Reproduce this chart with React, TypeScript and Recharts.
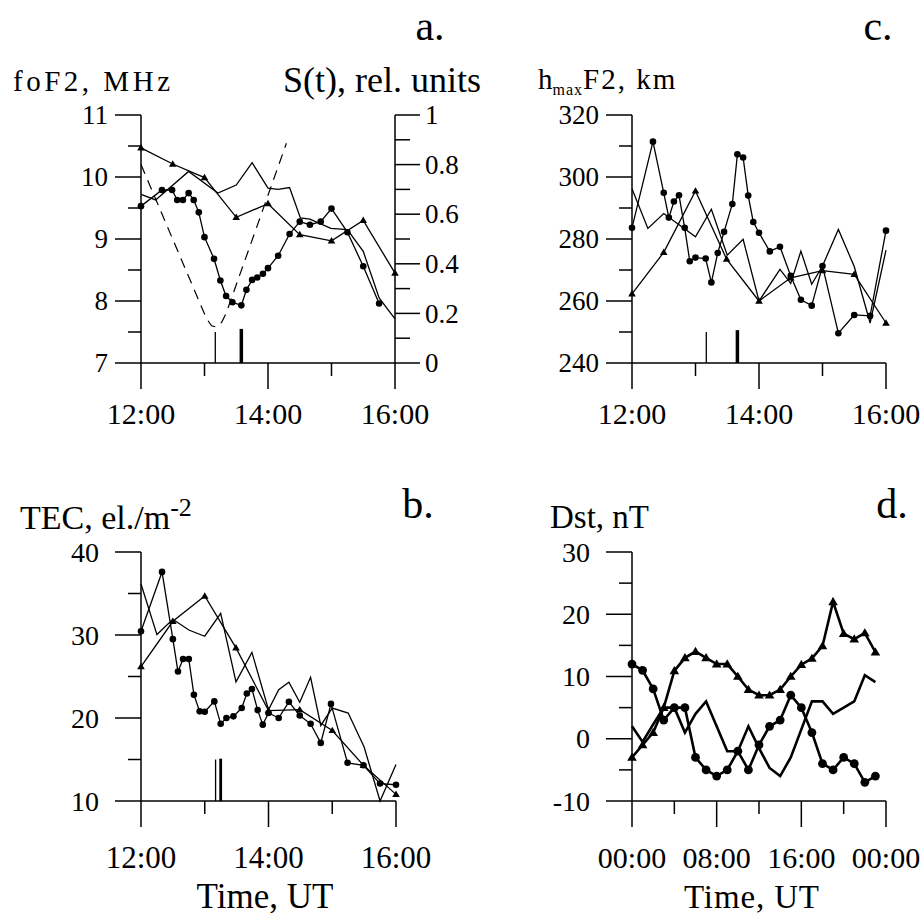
import React from 'react';
import { LineChart, Line, XAxis, YAxis } from 'recharts';

const SERIF = '"Liberation Serif", "Times New Roman", Times, serif';
const PAGE_W = 922;
const PAGE_H = 919;

// a. foF2, MHz  (circles: eclipse day, triangles + thin line: reference days), dashed: S(t)
const foF2EclT = [12.0, 12.33, 12.49, 12.57, 12.66, 12.75, 12.83, 12.91, 13.0, 13.15, 13.25, 13.34, 13.44, 13.58, 13.66, 13.75, 13.83, 13.92, 14.0, 14.16, 14.34, 14.5, 14.66, 14.83, 15.0, 15.25, 15.5, 15.75];
const foF2Ecl = [9.53, 9.79, 9.79, 9.63, 9.63, 9.74, 9.63, 9.43, 9.03, 8.68, 8.33, 8.08, 7.98, 7.93, 8.18, 8.34, 8.38, 8.44, 8.53, 8.73, 9.08, 9.28, 9.23, 9.28, 9.49, 9.11, 8.56, 7.96];
const foF2TriT = [12, 12.5, 13, 13.5, 14, 14.5, 15, 15.5, 16];
const foF2Tri = [10.47, 10.21, 9.99, 9.35, 9.57, 9.07, 8.97, 9.3, 8.45];
const foF2ThinT = [12.0, 12.23, 12.75, 13.21, 13.5, 13.75, 14.0, 14.16, 14.34, 14.51, 14.66, 14.99, 15.25, 15.5, 15.75, 16.0];
const foF2Thin = [9.72, 9.63, 10.09, 9.74, 9.87, 10.23, 9.82, 9.8, 9.83, 9.34, 9.32, 9.17, 9.15, 8.8, 8.05, 7.71];
const sunT = [12.0, 13.03, 13.11, 13.19, 13.27, 13.34, 14.29];
const sunS = [0.8, 0.18, 0.15, 0.145, 0.164, 0.2, 0.886];
const foF2Marks = [13.17, 13.58];

// c. hmaxF2, km
const hmEclT = [12.0, 12.33, 12.5, 12.58, 12.66, 12.74, 12.83, 12.91, 13.0, 13.16, 13.25, 13.35, 13.45, 13.58, 13.66, 13.75, 13.83, 13.91, 14.0, 14.17, 14.33, 14.5, 14.66, 14.83, 15.0, 15.25, 15.5, 15.75, 16.0];
const hmEcl = [283.6, 311.4, 294.9, 286.9, 292.1, 294.1, 283.6, 272.8, 274.0, 273.7, 266.0, 275.5, 282.3, 291.3, 307.3, 306.3, 294.0, 285.5, 282.0, 276.0, 277.5, 268.1, 260.4, 258.5, 271.3, 249.6, 255.5, 255.2, 282.7];
const hmTriT = [12, 12.5, 13, 13.49, 14, 14.5, 15, 15.5, 16];
const hmTri = [262.3, 275.7, 295.5, 273.5, 260.0, 267.5, 269.8, 268.6, 252.9];
const hmThinT = [12.0, 12.25, 12.5, 13.0, 13.25, 13.5, 13.75, 14.0, 14.33, 14.5, 14.66, 14.83, 15.0, 15.25, 15.5, 15.75, 16.0];
const hmThin = [296.2, 283.4, 288.2, 280.7, 289.6, 274.8, 279.9, 260.0, 270.2, 265.7, 276.1, 265.4, 271.3, 283.1, 271.1, 252.9, 276.4];
const hmMarks = [13.17, 13.66];

// b. TEC
const tecEclT = [12.0, 12.33, 12.5, 12.58, 12.66, 12.75, 12.83, 12.92, 13.0, 13.15, 13.25, 13.34, 13.45, 13.58, 13.66, 13.74, 13.83, 13.91, 14.0, 14.16, 14.32, 14.49, 14.66, 14.82, 14.98, 15.24, 15.49, 15.75, 16.0];
const tecEcl = [30.45, 37.6, 29.5, 25.6, 27.1, 27.1, 22.8, 20.8, 20.75, 22.0, 19.3, 20.0, 20.2, 21.2, 22.95, 23.5, 20.95, 19.2, 20.6, 20.0, 21.95, 20.3, 19.3, 17.0, 21.7, 14.6, 14.3, 12.1, 11.96];
const tecTriT = [12, 12.5, 13, 13.49, 14, 14.49, 15, 15.49, 16];
const tecTri = [26.2, 31.65, 34.7, 28.45, 20.9, 21.0, 18.5, 14.3, 10.8];
const tecThinT = [12.0, 12.25, 12.5, 12.75, 13.0, 13.25, 13.49, 13.74, 14.0, 14.16, 14.32, 14.49, 14.66, 14.82, 15.0, 15.25, 15.5, 15.75, 16.0];
const tecThin = [36.15, 30.05, 31.9, 30.6, 29.85, 32.6, 24.35, 27.9, 21.0, 23.4, 24.3, 21.9, 24.9, 19.1, 21.2, 20.6, 16.5, 10.0, 14.4];
const tecMarks = [13.17, 13.25];

// d. Dst, nT (hourly)
const dstHours = [0, 1, 2, 3, 4, 5, 6, 7, 8, 9, 10, 11, 12, 13, 14, 15, 16, 17, 18, 19, 20, 21, 22, 23];
const dstEcl = [12, 11, 8, 3, 5, 5, -3, -5, -6, -5, -2, -5, -1, 2, 3, 7, 5, 1, -4, -5, -3, -4, -7, -6];
const dstTri = [-3, -1, 1, 5, 10.9, 13, 14, 13, 12, 12, 10, 7.9, 7, 7, 7.9, 10, 11.9, 12.9, 14.9, 22, 16.9, 16, 17, 13.9];
const dstThin = [2, -0.5, 2.3, 5, 5, 1, 4, 6, 2, -2, -2, 2, -1.5, -4.7, -6, -3, 1.5, 6, 6, 4, 5, 6, 10.2, 9.1];

// ticks
const hourTicks = [12, 13, 14, 15, 16];
const hourMajor = [12, 14, 16];
const foF2Ticks = [7, 7.5, 8, 8.5, 9, 9.5, 10, 10.5, 11];
const foF2Major = [7, 8, 9, 10, 11];
const sTicks = [0, 0.1, 0.2, 0.3, 0.4, 0.5, 0.6, 0.7, 0.8, 0.9, 1];
const sMajor = [0, 0.2, 0.4, 0.6, 0.8, 1];
const hmTicks = [240, 250, 260, 270, 280, 290, 300, 310, 320];
const hmMajor = [240, 260, 280, 300, 320];
const tecTicks = [10, 15, 20, 25, 30, 35, 40];
const tecMajor = [10, 20, 30, 40];
const dstTicks = [-10, -5, 0, 5, 10, 15, 20, 25, 30];
const dstMajor = [-10, 0, 10, 20, 30];
const dayTicks = [0, 4, 8, 12, 16, 20, 24];
const dayMajor = [0, 8, 16, 24];
const dayLabels = ['00:00', '08:00', '16:00', '00:00'];

const pts = (t: number[], v: number[]) => t.map((x, i) => ({ t: x, v: v[i] }));
const mark = (t: number, y0: number, y1: number) => [{ t, v: y0 }, { t, v: y1 }];
const hit = (list: number[], v: number) => list.findIndex((m) => Math.abs(m - v) < 1e-6);
const num = (v: number) => String(Math.round(v * 10) / 10);
const clock = (v: number) => `${v}:00`;

type TickProps = {
  x?: number;
  y?: number;
  payload?: { value: number };
  majors: number[];
  len: [number, number];
  gap: number;
  size: number;
  fmt: (v: number, i: number) => string;
};

const labelStyle: React.CSSProperties = { fontFamily: SERIF };

function LeftTick({ x = 0, y = 0, payload, majors, len, gap, size, fmt }: TickProps) {
  const v = payload ? payload.value : 0;
  const i = hit(majors, v);
  const l = i >= 0 ? len[0] : len[1];
  return (
    <g>
      <line x1={x - l} y1={y} x2={x} y2={y} stroke="#000" strokeWidth={1.5} />
      {i >= 0 && (
        <text x={x - l - gap} y={y} dy="0.34em" textAnchor="end" style={labelStyle} fontSize={size} fill="#000">
          {fmt(v, i)}
        </text>
      )}
    </g>
  );
}

function RightTick({ x = 0, y = 0, payload, majors, len, gap, size, fmt }: TickProps) {
  const v = payload ? payload.value : 0;
  const i = hit(majors, v);
  const l = i >= 0 ? len[0] : len[1];
  return (
    <g>
      <line x1={x} y1={y} x2={x + l} y2={y} stroke="#000" strokeWidth={1.5} />
      {i >= 0 && (
        <text x={x + l + gap} y={y} dy="0.34em" textAnchor="start" style={labelStyle} fontSize={size} fill="#000">
          {fmt(v, i)}
        </text>
      )}
    </g>
  );
}

function BottomTick({ x = 0, y = 0, payload, majors, len, gap, size, fmt }: TickProps) {
  const v = payload ? payload.value : 0;
  const i = hit(majors, v);
  const l = i >= 0 ? len[0] : len[1];
  return (
    <g>
      <line x1={x} y1={y} x2={x} y2={y + l} stroke="#000" strokeWidth={1.5} />
      {i >= 0 && (
        <text x={x} y={y + gap} textAnchor="middle" style={labelStyle} fontSize={size} fill="#000">
          {fmt(v, i)}
        </text>
      )}
    </g>
  );
}

function Tri({ cx, cy, size = 3.6 }: any) {
  if (cx == null || cy == null) return null;
  const s = size;
  return <polygon points={`${cx},${cy - s} ${cx - s},${cy + s * 0.7} ${cx + s},${cy + s * 0.7}`} fill="#000" />;
}

const AXIS = { stroke: '#000', strokeWidth: 1.5 };
const abs: React.CSSProperties = { position: 'absolute', left: 0, top: 0 };

function dotStyle(r: number) {
  return { r, fill: '#000', stroke: '#000', strokeWidth: 0 };
}

export default function App() {
  const thin = 1.3;
  return (
    <div style={{ position: 'absolute', left: 0, top: 0, width: PAGE_W, height: PAGE_H, background: '#fff', fontFamily: SERIF }}>
      {/* a. */}
      <div style={abs}>
        <LineChart width={PAGE_W} height={PAGE_H} margin={{ top: 115, right: 526, bottom: 555, left: 140 }}>
          <XAxis type="number" dataKey="t" domain={[12, 16]} ticks={hourTicks} interval={0} height={1}
            tickSize={0} tickMargin={0} tickLine={false} axisLine={AXIS}
            tick={<BottomTick majors={hourMajor} len={[26, 13]} gap={61} size={30} fmt={clock} />} />
          <YAxis yAxisId="f" type="number" domain={[7, 11]} ticks={foF2Ticks} interval={0} width={1}
            tickSize={0} tickMargin={0} tickLine={false} axisLine={AXIS}
            tick={<LeftTick majors={foF2Major} len={[26, 13]} gap={7} size={27} fmt={num} />} />
          <YAxis yAxisId="s" orientation="right" type="number" domain={[0, 1]} ticks={sTicks} interval={0} width={1}
            tickSize={0} tickMargin={0} tickLine={false} axisLine={AXIS}
            tick={<RightTick majors={sMajor} len={[25, 15]} gap={5} size={27} fmt={num} />} />
          <Line yAxisId="s" data={pts(sunT, sunS)} dataKey="v" stroke="#000" strokeWidth={1.2} strokeDasharray="10 7"
            dot={false} activeDot={false} isAnimationActive={false} />
          <Line yAxisId="f" data={pts(foF2ThinT, foF2Thin)} dataKey="v" stroke="#000" strokeWidth={thin}
            dot={false} activeDot={false} isAnimationActive={false} />
          <Line yAxisId="f" data={pts(foF2TriT, foF2Tri)} dataKey="v" stroke="#000" strokeWidth={thin}
            dot={<Tri size={3.8} />} activeDot={false} isAnimationActive={false} />
          <Line yAxisId="f" data={pts(foF2EclT, foF2Ecl)} dataKey="v" stroke="#000" strokeWidth={thin}
            dot={dotStyle(3.3)} activeDot={false} isAnimationActive={false} />
          <Line yAxisId="f" data={mark(foF2Marks[0], 7, 7.5)} dataKey="v" stroke="#000" strokeWidth={1.3}
            dot={false} activeDot={false} isAnimationActive={false} />
          <Line yAxisId="f" data={mark(foF2Marks[1], 7, 7.55)} dataKey="v" stroke="#000" strokeWidth={3.5}
            dot={false} activeDot={false} isAnimationActive={false} />
        </LineChart>
      </div>

      {/* c. */}
      <div style={abs}>
        <LineChart width={PAGE_W} height={PAGE_H} margin={{ top: 115, right: 36, bottom: 555, left: 631 }}>
          <XAxis type="number" dataKey="t" domain={[12, 16]} ticks={hourTicks} interval={0} height={1}
            tickSize={0} tickMargin={0} tickLine={false} axisLine={AXIS}
            tick={<BottomTick majors={hourMajor} len={[26, 13]} gap={61} size={30} fmt={clock} />} />
          <YAxis yAxisId="h" type="number" domain={[240, 320]} ticks={hmTicks} interval={0} width={1}
            tickSize={0} tickMargin={0} tickLine={false} axisLine={AXIS}
            tick={<LeftTick majors={hmMajor} len={[26, 13]} gap={7} size={27} fmt={num} />} />
          <Line yAxisId="h" data={pts(hmThinT, hmThin)} dataKey="v" stroke="#000" strokeWidth={thin}
            dot={false} activeDot={false} isAnimationActive={false} />
          <Line yAxisId="h" data={pts(hmTriT, hmTri)} dataKey="v" stroke="#000" strokeWidth={thin}
            dot={<Tri size={3.8} />} activeDot={false} isAnimationActive={false} />
          <Line yAxisId="h" data={pts(hmEclT, hmEcl)} dataKey="v" stroke="#000" strokeWidth={thin}
            dot={dotStyle(3.3)} activeDot={false} isAnimationActive={false} />
          <Line yAxisId="h" data={mark(hmMarks[0], 240, 250)} dataKey="v" stroke="#000" strokeWidth={1.3}
            dot={false} activeDot={false} isAnimationActive={false} />
          <Line yAxisId="h" data={mark(hmMarks[1], 240, 250.6)} dataKey="v" stroke="#000" strokeWidth={3.5}
            dot={false} activeDot={false} isAnimationActive={false} />
        </LineChart>
      </div>

      {/* b. */}
      <div style={abs}>
        <LineChart width={PAGE_W} height={PAGE_H} margin={{ top: 552, right: 526, bottom: 117, left: 140 }}>
          <XAxis type="number" dataKey="t" domain={[12, 16]} ticks={hourTicks} interval={0} height={1}
            tickSize={0} tickMargin={0} tickLine={false} axisLine={AXIS}
            tick={<BottomTick majors={hourMajor} len={[26, 13]} gap={67} size={31} fmt={clock} />} />
          <YAxis yAxisId="e" type="number" domain={[10, 40]} ticks={tecTicks} interval={0} width={1}
            tickSize={0} tickMargin={0} tickLine={false} axisLine={AXIS}
            tick={<LeftTick majors={tecMajor} len={[26, 13]} gap={16} size={28} fmt={num} />} />
          <Line yAxisId="e" data={pts(tecThinT, tecThin)} dataKey="v" stroke="#000" strokeWidth={thin}
            dot={false} activeDot={false} isAnimationActive={false} />
          <Line yAxisId="e" data={pts(tecTriT, tecTri)} dataKey="v" stroke="#000" strokeWidth={thin}
            dot={<Tri size={3.8} />} activeDot={false} isAnimationActive={false} />
          <Line yAxisId="e" data={pts(tecEclT, tecEcl)} dataKey="v" stroke="#000" strokeWidth={thin}
            dot={dotStyle(3.3)} activeDot={false} isAnimationActive={false} />
          <Line yAxisId="e" data={mark(tecMarks[0], 10, 15)} dataKey="v" stroke="#000" strokeWidth={1.3}
            dot={false} activeDot={false} isAnimationActive={false} />
          <Line yAxisId="e" data={mark(tecMarks[1], 10, 15.1)} dataKey="v" stroke="#000" strokeWidth={2.8}
            dot={false} activeDot={false} isAnimationActive={false} />
        </LineChart>
      </div>

      {/* d. */}
      <div style={abs}>
        <LineChart width={PAGE_W} height={PAGE_H} margin={{ top: 552, right: 36, bottom: 117, left: 631 }}>
          <XAxis type="number" dataKey="t" domain={[0, 24]} ticks={dayTicks} interval={0} height={1}
            tickSize={0} tickMargin={0} tickLine={false} axisLine={AXIS}
            tick={<BottomTick majors={dayMajor} len={[26, 13]} gap={67} size={30} fmt={(_v, i) => dayLabels[i]} />} />
          <YAxis yAxisId="d" type="number" domain={[-10, 30]} ticks={dstTicks} interval={0} width={1}
            tickSize={0} tickMargin={0} tickLine={false} axisLine={AXIS}
            tick={<LeftTick majors={dstMajor} len={[26, 13]} gap={16} size={28} fmt={num} />} />
          <Line yAxisId="d" data={pts(dstHours, dstThin)} dataKey="v" stroke="#000" strokeWidth={2.6}
            dot={false} activeDot={false} isAnimationActive={false} />
          <Line yAxisId="d" data={pts(dstHours, dstTri)} dataKey="v" stroke="#000" strokeWidth={2.6}
            dot={<Tri size={4.8} />} activeDot={false} isAnimationActive={false} />
          <Line yAxisId="d" data={pts(dstHours, dstEcl)} dataKey="v" stroke="#000" strokeWidth={2.6}
            dot={dotStyle(4.4)} activeDot={false} isAnimationActive={false} />
        </LineChart>
      </div>

      {/* labels */}
      <svg width={PAGE_W} height={PAGE_H} style={{ ...abs, pointerEvents: 'none', fontFamily: SERIF }} fill="#000">
        <text x={430} y={40} textAnchor="middle" fontSize={42}>a.</text>
        <text x={878} y={40} textAnchor="middle" fontSize={42}>c.</text>
        <text x={418} y={518} textAnchor="middle" fontSize={42}>b.</text>
        <text x={892} y={518} textAnchor="middle" fontSize={42}>d.</text>

        <text x={13} y={91} fontSize={29} textLength={157} lengthAdjust="spacing">foF2, MHz</text>
        <text x={283} y={92} fontSize={36}>S(t), rel. units</text>
        <text x={538} y={89} fontSize={29}>
          h<tspan fontSize={16} dy={6} letterSpacing={1}>max</tspan>
          <tspan dy={-6} letterSpacing={2}>F2, km</tspan>
        </text>

        <text x={20} y={529} fontSize={34}>
          TEC, el./m<tspan fontSize={26} dy={-13}>-2</tspan>
        </text>
        <text x={550} y={528} fontSize={33}>Dst, nT</text>

        <text x={265} y={908} textAnchor="middle" fontSize={35}>Time, UT</text>
        <text x={684} y={908} fontSize={33} textLength={135} lengthAdjust="spacing">Time, UT</text>
      </svg>
    </div>
  );
}
